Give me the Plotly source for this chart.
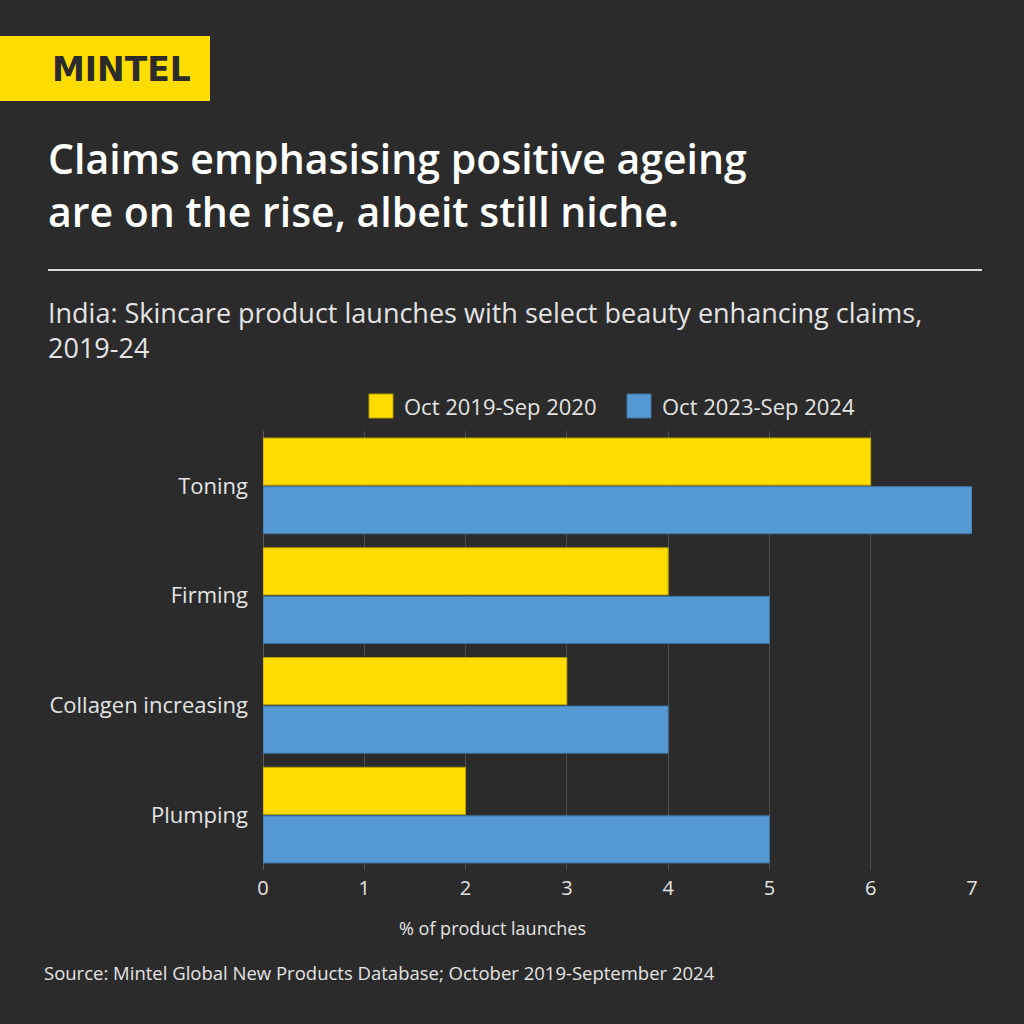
import plotly.graph_objects as go

categories = ["Toning", "Firming", "Collagen increasing", "Plumping"]
series_names = ["Oct 2019-Sep 2020", "Oct 2023-Sep 2024"]
values_2020 = [6, 4, 3, 2]
values_2024 = [7, 5, 4, 5]
x_ticks = [0, 1, 2, 3, 4, 5, 6, 7]

BG = "#2b2b2b"
YELLOW = "#FFDD00"
BLUE = "#5599D3"
FONT = "Open Sans"
TXT = "#e4e4e4"

W, H = 1024, 1024
L, R, T, B = 263, 52, 431, 154
PW, PH = W - L - R, H - T - B

def px(x):
    return (x - L) / PW

def py(y):
    return (H - B - y) / PH

fig = go.Figure()
fig.add_trace(go.Bar(y=categories, x=values_2020, name=series_names[0], orientation="h",
                     marker=dict(color=YELLOW, line=dict(color="#b8a000", width=1)),
                     showlegend=False))
fig.add_trace(go.Bar(y=categories, x=values_2024, name=series_names[1], orientation="h",
                     marker=dict(color=BLUE, line=dict(color="#3f75a5", width=1)),
                     showlegend=False))

fig.update_layout(
    width=W, height=H,
    paper_bgcolor=BG, plot_bgcolor=BG,
    margin=dict(l=L, r=R, t=T, b=B),
    barmode="group", bargap=0.115, bargroupgap=0.03,
    font=dict(family=FONT, color=TXT, size=20),
    showlegend=False,
    xaxis=dict(range=[0, 7.0], tickvals=x_ticks, showgrid=True, gridcolor="#4f4f4f",
               gridwidth=1, zeroline=True, zerolinecolor="#5a5a5a", zerolinewidth=1,
               tickfont=dict(size=20, color=TXT), ticks="", ticklabelstandoff=4),
    yaxis=dict(categoryorder="array", categoryarray=categories, range=[3.5, -0.5],
               showgrid=False, ticks="", ticklabelstandoff=14,
               tickfont=dict(size=22, color=TXT)),
)

shapes = [
    dict(type="rect", xref="paper", yref="paper", x0=px(0), x1=px(210), y0=py(101), y1=py(36),
         fillcolor=YELLOW, line=dict(width=0), layer="above"),
    dict(type="line", xref="paper", yref="paper", x0=px(48), x1=px(982), y0=py(270), y1=py(270),
         line=dict(color="#d9d9d9", width=2)),
]

ann = [
    dict(text="<b>MINTEL</b>", x=px(121), y=py(69), xanchor="center", yanchor="middle",
         font=dict(size=33, color="#2b2b2b", family="DejaVu Sans")),
    dict(text="Claims emphasising positive ageing<br>are on the rise, albeit still niche.",
         x=px(46), y=py(128), xanchor="left", yanchor="top", align="left",
         font=dict(size=41, color="#ffffff", family=FONT, weight=600)),
    dict(text="India: Skincare product launches with select beauty enhancing claims,<br>2019-24",
         x=px(46), y=py(292), xanchor="left", yanchor="top", align="left",
         font=dict(size=27, color=TXT, family=FONT)),
    dict(text="% of product launches", x=px(492), y=py(928), xanchor="center", yanchor="middle",
         font=dict(size=18, color=TXT, family=FONT)),
    dict(text="Source: Mintel Global New Products Database; October 2019-September 2024",
         x=px(42), y=py(972), xanchor="left", yanchor="middle",
         font=dict(size=18.5, color=TXT, family=FONT)),
]

# manual legend (large square swatches)
legend_items = [(series_names[0], YELLOW, "#b8a000", 369), (series_names[1], BLUE, "#3f75a5", 627)]
for name, col, edge, x0 in legend_items:
    shapes.append(dict(type="rect", xref="paper", yref="paper", x0=px(x0), x1=px(x0 + 24),
                       y0=py(418), y1=py(394), fillcolor=col, line=dict(color=edge, width=1)))
    ann.append(dict(text=name, x=px(x0 + 33), y=py(406), xanchor="left", yanchor="middle",
                    font=dict(size=22, color=TXT, family=FONT)))

for a in ann:
    a.update(xref="paper", yref="paper", showarrow=False)
fig.update_layout(shapes=shapes, annotations=ann)

fig.write_html("out.html", config={"displayModeBar": False},
               post_script="document.body.style.margin='0';document.body.style.background='#2b2b2b';")
